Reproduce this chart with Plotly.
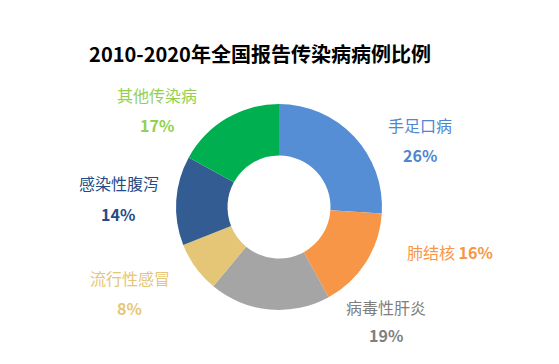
import plotly.graph_objects as go

W, H = 559, 364
OFF = 8  # page body margin offset

categories = ["手足口病", "肺结核", "病毒性肝炎", "流行性感冒", "感染性腹泻", "其他传染病"]
values = [26, 16, 19, 8, 14, 17]
slice_colors = ["#558ED5", "#F79646", "#A5A5A5", "#E5C677", "#335D92", "#00B050"]
text_colors = ["#4F86D1", "#F79646", "#7F7F7F", "#E5C677", "#254B86", "#92D050"]

# label placement (pixel coordinates of label centers in the screenshot): name, percent
name_pos = [(420, 125), (None, None), (386, 307), (130, 278), (119, 183), (157, 95)]
pct_pos = [(420, 155), (450, 252), (386, 335), (130, 308), (118, 214), (157, 125)]

cx, cy, r = 279 - OFF, 207 - OFF, 103


def px2paper(x, y):
    return (x - OFF) / W, 1 - (y - OFF) / H


fig = go.Figure(go.Pie(
    labels=categories,
    values=values,
    marker=dict(colors=slice_colors, line=dict(width=0)),
    hole=0.5,
    sort=False,
    direction="clockwise",
    rotation=0,
    textinfo="none",
    hoverinfo="label+percent",
    domain=dict(x=[(cx - r) / W, (cx + r) / W], y=[(H - cy - r) / H, (H - cy + r) / H]),
    showlegend=False,
))

font_cjk = "Noto Sans CJK SC, Microsoft YaHei, sans-serif"
ann = []
for i, cat in enumerate(categories):
    nx, ny = name_pos[i]
    px, py = pct_pos[i]
    f = dict(family=font_cjk, size=16, color=text_colors[i])
    if nx is None:
        x, y = px2paper(px, py)
        ann.append(dict(x=x, y=y, xref="paper", yref="paper",
                        text=f"{cat} <b>{values[i]}%</b>", showarrow=False,
                        font=f, xanchor="center", yanchor="middle"))
        continue
    x, y = px2paper(nx, ny)
    ann.append(dict(x=x, y=y, xref="paper", yref="paper", text=cat, showarrow=False,
                    font=f, xanchor="center", yanchor="middle"))
    x, y = px2paper(px, py)
    ann.append(dict(x=x, y=y, xref="paper", yref="paper", text=f"<b>{values[i]}%</b>",
                    showarrow=False, font=f, xanchor="center", yanchor="middle"))

tx, ty = px2paper(260, 55)
fig.update_layout(
    width=W, height=H,
    margin=dict(l=0, r=0, t=0, b=0),
    paper_bgcolor="white", plot_bgcolor="white",
    title=dict(text="<b>2010-2020年全国报告传染病病例比例</b>", x=tx, xanchor="center",
               y=ty, yanchor="middle",
               font=dict(family=font_cjk, size=20, color="#000000")),
    annotations=ann,
)

fig.write_html("out.html")
